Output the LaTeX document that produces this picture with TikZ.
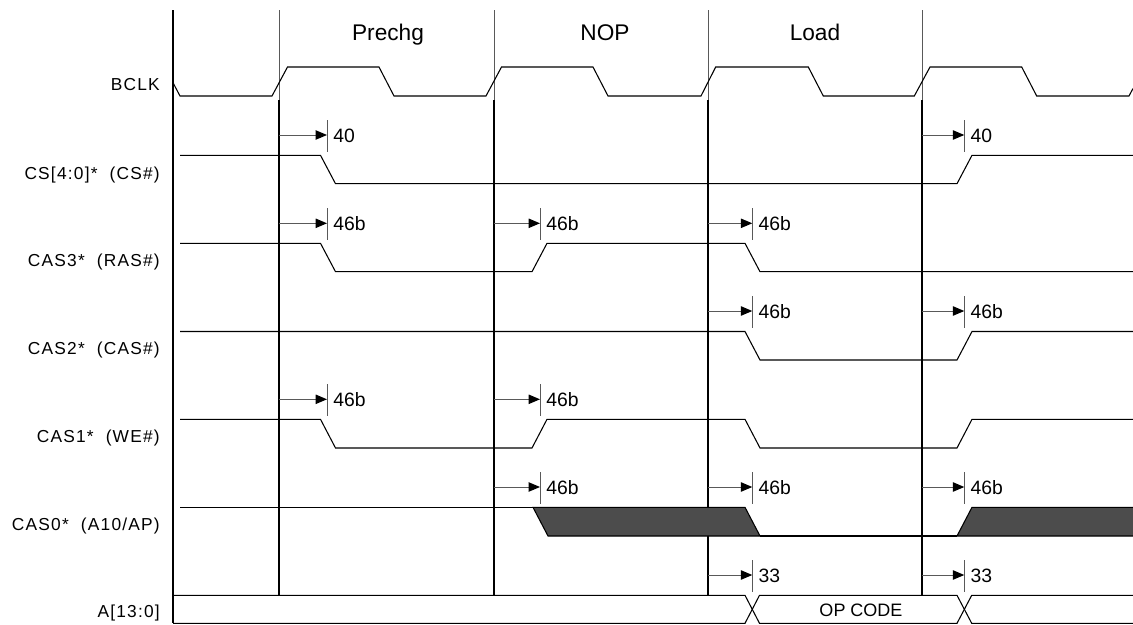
\documentclass[tikz,border=0pt]{standalone}
\usepackage{fontspec}
\setmainfont{Liberation Sans}
\newfontfamily\lblfont[LetterSpace=7]{Liberation Sans}
\usetikzlibrary{arrows.meta}
\tikzset{
  sig/.style={line width=0.8pt, black},
  gridln/.style={line width=0.9pt, black},
  gridup/.style={line width=0.7pt, black!65},
  dlyarrow/.style={line width=0.75pt, black!65, -{Triangle[length=8.5pt,width=7pt,color=black]}},
  dlytick/.style={line width=0.75pt, black!65},
  dlylbl/.style={anchor=base west, inner sep=0pt, font=\fontsize{14.5}{16}\selectfont},
  siglbl/.style={anchor=base east, inner sep=0pt, font=\lblfont\fontsize{13}{15}\selectfont},
  hdr/.style={anchor=base, inner sep=0pt, font=\fontsize{17}{19}\selectfont},
  dark/.style={fill=black!70, draw=black, line width=0.8pt}
}
\newcommand\dmark[5]{%
  \coordinate (#5s) at (#1,#3);
  \coordinate (#5e) at (#2,#3);
  \draw[dlyarrow] (#5s) -- (#5e);
  \draw[dlytick] ({#2},{#3-15}) -- ({#2},{#3+16.5});
  \node[dlylbl] (#5l) at ({#2+6},{#3+7.5}) {#4};
}
\begin{document}
\begin{tikzpicture}[x=0.75pt,y=-0.75pt, line join=miter]
\useasboundingbox (0,0) rectangle (1133,625);
% header labels
\node[hdr] (hpre) at (388,40) {Prechg};
\node[hdr] (hnop) at (605,40) {NOP};
\node[hdr] (hload) at (815,40) {Load};
% signal labels
\node[siglbl] (lbclk) at (160,90) {BCLK};
\node[siglbl] (lcs) at (160,179) {CS[4:0]*\ \ (CS\#)};
\node[siglbl] (lcas3) at (160,266.5) {CAS3*\ \ (RAS\#)};
\node[siglbl] (lcas2) at (160,354.5) {CAS2*\ \ (CAS\#)};
\node[siglbl] (lcas1) at (160,442) {CAS1*\ \ (WE\#)};
\node[siglbl] (lcas0) at (160,530) {CAS0*\ \ (A10/AP)};
\node[siglbl] (la) at (160,617.5) {A[13:0]};
% grid lines
\draw[gridln] (173,10) -- (173,623.3);
\foreach \x in {279,494,708,922}{
  \draw[gridup] (\x,10) -- (\x,100);
  \draw[gridln] (\x,100) -- (\x,595.3);
}
% BCLK
\draw[sig] (173,82.7) -- (180,96) -- (272,96) -- (287.5,67) -- (379,67) -- (394,96)
  -- (486,96) -- (501.5,67) -- (593,67) -- (608,96)
  -- (701,96) -- (715.7,67) -- (808.3,67) -- (823.3,96)
  -- (914.3,96) -- (930,67) -- (1021.7,67) -- (1036.7,96)
  -- (1129,96) -- (1133,88.5);
% CS
\draw[sig] (180,155.3) -- (320.5,155.3) -- (335.5,183.7) -- (957,183.7) -- (972,155.3) -- (1133,155.3);
% CAS3
\draw[sig] (180,243.3) -- (320.5,243.3) -- (335.5,271.7) -- (532,271.7) -- (547,243.3) -- (745,243.3) -- (760,271.7) -- (1133,271.7);
% CAS2
\draw[sig] (180,331.5) -- (745,331.5) -- (760,360) -- (957,360) -- (972,331.5) -- (1133,331.5);
% CAS1
\draw[sig] (180,419.3) -- (320.5,419.3) -- (335.5,448) -- (532,448) -- (547,419.3) -- (745,419.3) -- (760,448) -- (957,448) -- (972,419.3) -- (1133,419.3);
% CAS0
\draw[sig] (180,507.3) -- (533,507.3);
\draw[dark] (533,507.3) -- (745,507.3) -- (760,536) -- (548,536) -- cycle;
\draw[sig] (760,536) -- (957,536);
\draw[dark] (957,536) -- (972,507.3) -- (1134,507.3) -- (1134,536) -- cycle;
% A bus
\draw[sig] (173,595.3) -- (745,595.3) -- (759.5,623.3) -- (957,623.3) -- (971.7,595.3) -- (1133,595.3);
\draw[sig] (173,623.3) -- (745,623.3) -- (759.5,595.3) -- (957,595.3) -- (971.7,623.3) -- (1133,623.3);
\node[anchor=base, inner sep=0pt, font=\fontsize{13.5}{15}\selectfont] (opc) at (861,616.7) {OP CODE};
% delay marks
\dmark{279}{327}{135}{40}{d1}
\dmark{922}{964.3}{135}{40}{d2}
\dmark{279}{327}{223.3}{46b}{d3}
\dmark{494}{540}{223.3}{46b}{d4}
\dmark{708}{752.3}{223.3}{46b}{d5}
\dmark{708}{752.3}{311}{46b}{d6}
\dmark{922}{964.3}{311}{46b}{d7}
\dmark{279}{327}{399.3}{46b}{d8}
\dmark{494}{540}{399.3}{46b}{d9}
\dmark{494}{540}{487}{46b}{d10}
\dmark{708}{752.3}{487}{46b}{d11}
\dmark{922}{964.3}{487}{46b}{d12}
\dmark{708}{752.3}{575}{33}{d13}
\dmark{922}{964.3}{575}{33}{d14}
\end{tikzpicture}
\end{document}
